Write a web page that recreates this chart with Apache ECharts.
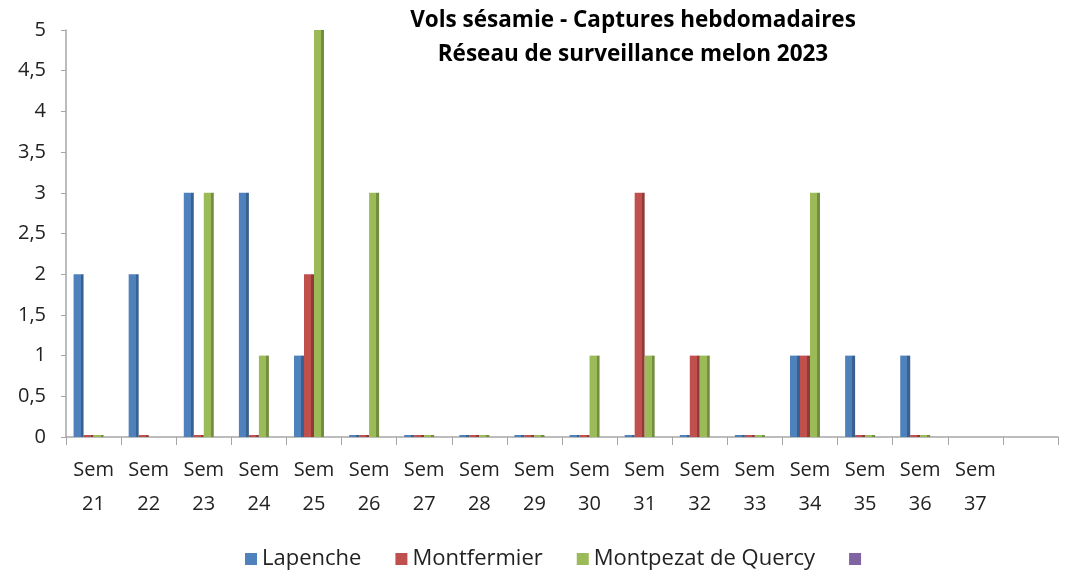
<!DOCTYPE html>
<html>
<head>
<meta charset="utf-8">
<title>Vols sésamie 2023</title>
<script src="https://cdn.jsdelivr.net/npm/echarts@6/dist/echarts.min.js"></script>
<style>
  html, body { margin: 0; padding: 0; background: #fff; }
  #chart { width: 1071px; height: 576px; }
</style>
</head>
<body>
<div id="chart"></div>
<script>
// semaines (la derniere case est vide, comme dans l'original)
var semaines = ['Sem\n21', 'Sem\n22', 'Sem\n23', 'Sem\n24', 'Sem\n25', 'Sem\n26', 'Sem\n27', 'Sem\n28', 'Sem\n29',
  'Sem\n30', 'Sem\n31', 'Sem\n32', 'Sem\n33', 'Sem\n34', 'Sem\n35', 'Sem\n36', 'Sem\n37', ''];

var lapenche    = [2, 2, 3, 3, 1, 0, 0, 0, 0, 0, 0, 0, 0, 1, 1, 1, null, null];
var montfermier = [0, 0, 0, 0, 2, 0, 0, 0, 0, 0, 3, 1, 0, 1, 0, 0, null, null];
var montpezat   = [0, null, 3, 1, 5, 3, 0, 0, 0, 1, 1, 1, 0, 3, 0, 0, null, null];
var vide        = [null, null, null, null, null, null, null, null, null, null, null, null, null, null, null, null, null, null];

var noms = ['Lapenche', 'Montfermier', 'Montpezat de Quercy', ' '];
var couleurs = ['#4F81BD', '#C0504D', '#9BBB59', '#8064A2'];
var cotes = ['#38618F', '#923A38', '#748E40', '#5E4A7A'];

var police = '"Open Sans", Lato, sans-serif';

function barre(nom, data, i) {
  return {
    name: nom,
    type: 'bar',
    data: data,
    barWidth: 10,
    barGap: '0%',
    barMinHeight: 2,
    itemStyle: {
      // faux effet 3D : face laterale plus sombre
      color: new echarts.graphic.LinearGradient(0, 0, 1, 0, [
        { offset: 0, color: couleurs[i] },
        { offset: 0.7, color: couleurs[i] },
        { offset: 0.7, color: cotes[i] },
        { offset: 1, color: cotes[i] }
      ])
    }
  };
}

var myChart = echarts.init(document.getElementById('chart'));
myChart.setOption({
  animation: false,
  color: couleurs,
  title: {
    text: 'Vols sésamie - Captures hebdomadaires\nRéseau de surveillance melon 2023',
    left: 628,
    top: -1,
    textAlign: 'center',
    textStyle: { fontFamily: police, fontSize: 22.5, fontWeight: 'bold', color: '#000', lineHeight: 34 }
  },
  legend: {
    bottom: 1,
    left: 240,
    itemWidth: 12,
    itemHeight: 12,
    itemGap: 34,
    icon: 'rect',
    data: noms.map(function (n, i) { return { name: n, itemStyle: { color: couleurs[i] } }; }),
    textStyle: { fontFamily: police, fontSize: 22, color: '#222' }
  },
  grid: { left: 66, right: 13, top: 30, bottom: 139, containLabel: false },
  xAxis: {
    type: 'category',
    data: semaines,
    axisLine: { lineStyle: { color: '#A6A6A6', width: 1.5 } },
    axisTick: { show: true, length: 8, lineStyle: { color: '#A6A6A6' } },
    axisLabel: { interval: 0, margin: 16, fontFamily: police, fontSize: 20, color: '#222', lineHeight: 34 }
  },
  yAxis: {
    type: 'value',
    min: 0,
    max: 5,
    interval: 0.5,
    splitLine: { show: false },
    axisLine: { show: true, lineStyle: { color: '#A6A6A6', width: 1.5 } },
    axisTick: { show: true, length: 5, lineStyle: { color: '#A6A6A6' } },
    axisLabel: {
      margin: 20,
      fontFamily: police,
      fontSize: 20,
      color: '#222',
      formatter: function (v) { return String(v).replace('.', ','); }
    }
  },
  series: [
    barre(noms[0], lapenche, 0),
    barre(noms[1], montfermier, 1),
    barre(noms[2], montpezat, 2),
    barre(noms[3], vide, 3)
  ]
});
</script>
</body>
</html>
